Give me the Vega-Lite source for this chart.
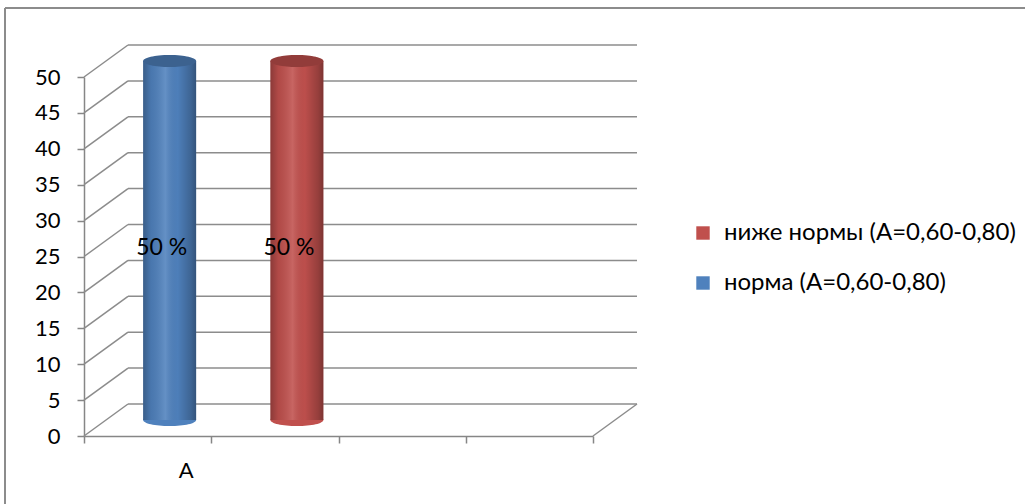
{
  "$schema": "https://vega.github.io/schema/vega-lite/v6.json",
  "width": 1020,
  "height": 496,
  "autosize": {"type": "none"},
  "padding": {"left": 5, "top": 8, "right": 0, "bottom": 0},
  "background": "white",
  "config": {
    "view": {"stroke": null},
    "font": "Lato"
  },
  "layer": [
    {
      "data": {"values": [{"v": 0}, {"v": 5}, {"v": 10}, {"v": 15}, {"v": 20}, {"v": 25}, {"v": 30}, {"v": 35}, {"v": 40}, {"v": 45}, {"v": 50}]},
      "encoding": {
        "y": {
          "field": "v",
          "type": "quantitative",
          "scale": {"domain": [0, 50], "range": [428, 69], "nice": false, "zero": true},
          "axis": {
            "orient": "left",
            "offset": -79,
            "values": [0, 5, 10, 15, 20, 25, 30, 35, 40, 45, 50],
            "grid": false,
            "domainColor": "#868686",
            "domainWidth": 1.5,
            "tickColor": "#868686",
            "tickWidth": 1.5,
            "tickSize": 7,
            "labelFont": "Lato",
            "labelFontSize": 22,
            "labelColor": "#000000",
            "labelPadding": 17,
            "title": null
          }
        }
      },
      "layer": [
        {
          "mark": {"type": "rule", "color": "#8c8c8c", "strokeWidth": 1.5, "xOffset": 44, "x2Offset": 44, "yOffset": -32, "y2Offset": -32},
          "encoding": {
            "x": {"datum": 0, "type": "quantitative", "scale": {"domain": [0, 4], "range": [79, 588], "nice": false}, "axis": null},
            "x2": {"datum": 4}
          }
        },
        {
          "mark": {"type": "rule", "color": "#8c8c8c", "strokeWidth": 1.5, "x2Offset": 44, "y2Offset": -32},
          "encoding": {
            "x": {"datum": 0, "type": "quantitative", "axis": null},
            "x2": {"datum": 0},
            "y2": {"field": "v"}
          }
        },
        {
          "transform": [{"filter": "datum.v == 0"}],
          "mark": {"type": "rule", "color": "#8c8c8c", "strokeWidth": 1.5, "x2Offset": 44, "y2Offset": -32},
          "encoding": {
            "x": {"datum": 4, "type": "quantitative", "axis": null},
            "x2": {"datum": 4},
            "y2": {"field": "v"}
          }
        }
      ]
    },
    {
      "data": {"values": [{"frame": "border"}]},
      "layer": [
        {
          "mark": {"type": "rule", "color": "#8c8c8c", "strokeWidth": 2},
          "encoding": {
            "x": {"datum": -0.6208, "type": "quantitative", "scale": {"domain": [0, 4], "range": [79, 588], "nice": false}, "axis": null}
          }
        },
        {
          "mark": {"type": "rule", "color": "#8c8c8c", "strokeWidth": 2},
          "encoding": {
            "x": {"datum": -0.6208, "type": "quantitative", "axis": null},
            "x2": {"datum": 7.395},
            "y": {"datum": 59.61, "type": "quantitative"}
          }
        }
      ]
    },
    {
      "data": {"values": [
        {"category": "A", "series": "норма (A=0,60-0,80)", "value": 50, "label": "50 %"},
        {"category": "A", "series": "ниже нормы (A=0,60-0,80)", "value": 50, "label": "50 %"}
      ]},
      "encoding": {
        "x": {
          "field": "series",
          "type": "nominal",
          "scale": {"type": "band", "domain": ["норма (A=0,60-0,80)", "ниже нормы (A=0,60-0,80)", " ", "  "], "range": [79, 588], "paddingInner": 0, "paddingOuter": 0},
          "axis": {
            "orient": "bottom",
            "offset": -68,
            "tickBand": "extent",
            "grid": false,
            "domainColor": "#868686",
            "domainWidth": 1.5,
            "tickColor": "#868686",
            "tickWidth": 1.5,
            "tickSize": 7,
            "labelExpr": "datum.value == 'норма (A=0,60-0,80)' ? 'A' : ''",
            "labelOffset": 38,
            "labelAngle": 0,
            "labelFont": "Lato",
            "labelFontSize": 22,
            "labelColor": "#000000",
            "labelPadding": 17,
            "title": null
          }
        }
      },
      "layer": [
        {
          "mark": {"type": "point", "shape": "M-1,0A1,0.23,0,1,1,1,0A1,0.23,0,1,1,-1,0Z", "size": 2809, "filled": true, "opacity": 1, "xOffset": 22, "yOffset": -16},
          "encoding": {
            "y": {"datum": 0, "type": "quantitative"},
            "color": {
              "field": "series",
              "type": "nominal",
              "scale": {"domain": ["ниже нормы (A=0,60-0,80)", "норма (A=0,60-0,80)"], "range": ["#c0504d", "#4f81bd"]},
              "legend": {
                "title": null,
                "orient": "none",
                "legendX": 686,
                "legendY": 213,
                "symbolType": "square",
                "symbolSize": 180,
                "symbolStrokeWidth": 0,
                "labelFont": "Lato",
                "labelFontSize": 24,
                "labelColor": "#000000",
                "labelOffset": 9,
                "rowPadding": 26,
                "labelLimit": 400
              }
            }
          }
        },
        {
          "mark": {"type": "bar", "width": 53, "xOffset": 22, "yOffset": -16, "y2Offset": -16, "orient": "vertical"},
          "encoding": {
            "y": {"field": "value", "type": "quantitative"},
            "y2": {"datum": 0},
            "color": {"field": "series", "type": "nominal"}
          }
        },
        {
          "mark": {
            "type": "bar", "width": 53, "xOffset": 22, "yOffset": -16, "y2Offset": -16, "orient": "vertical",
            "color": {"gradient": "linear", "x1": 0, "y1": 0, "x2": 1, "y2": 0, "stops": [
              {"offset": 0, "color": "rgba(0,0,0,0.28)"},
              {"offset": 0.15, "color": "rgba(0,0,0,0.08)"},
              {"offset": 0.42, "color": "rgba(255,255,255,0.12)"},
              {"offset": 0.65, "color": "rgba(0,0,0,0.02)"},
              {"offset": 0.9, "color": "rgba(0,0,0,0.22)"},
              {"offset": 1, "color": "rgba(0,0,0,0.35)"}
            ]}
          },
          "encoding": {
            "y": {"field": "value", "type": "quantitative"},
            "y2": {"datum": 0}
          }
        },
        {
          "mark": {"type": "point", "shape": "M-1,0A1,0.23,0,1,1,1,0A1,0.23,0,1,1,-1,0Z", "size": 2809, "filled": true, "opacity": 1, "xOffset": 22, "yOffset": -16},
          "encoding": {
            "y": {"field": "value", "type": "quantitative"},
            "color": {"field": "series", "type": "nominal"}
          }
        },
        {
          "mark": {"type": "point", "shape": "M-1,0A1,0.23,0,1,1,1,0A1,0.23,0,1,1,-1,0Z", "size": 2809, "filled": true, "color": "#000000", "opacity": 0.24, "xOffset": 22, "yOffset": -16},
          "encoding": {
            "y": {"field": "value", "type": "quantitative"}
          }
        },
        {
          "mark": {"type": "text", "font": "Lato", "fontSize": 23, "color": "#000000", "xOffset": 14, "yOffset": 171, "baseline": "middle", "align": "center"},
          "encoding": {
            "y": {"field": "value", "type": "quantitative"},
            "text": {"field": "label"}
          }
        }
      ]
    }
  ],
  "resolve": {"scale": {"x": "independent"}, "axis": {"x": "independent"}}
}
